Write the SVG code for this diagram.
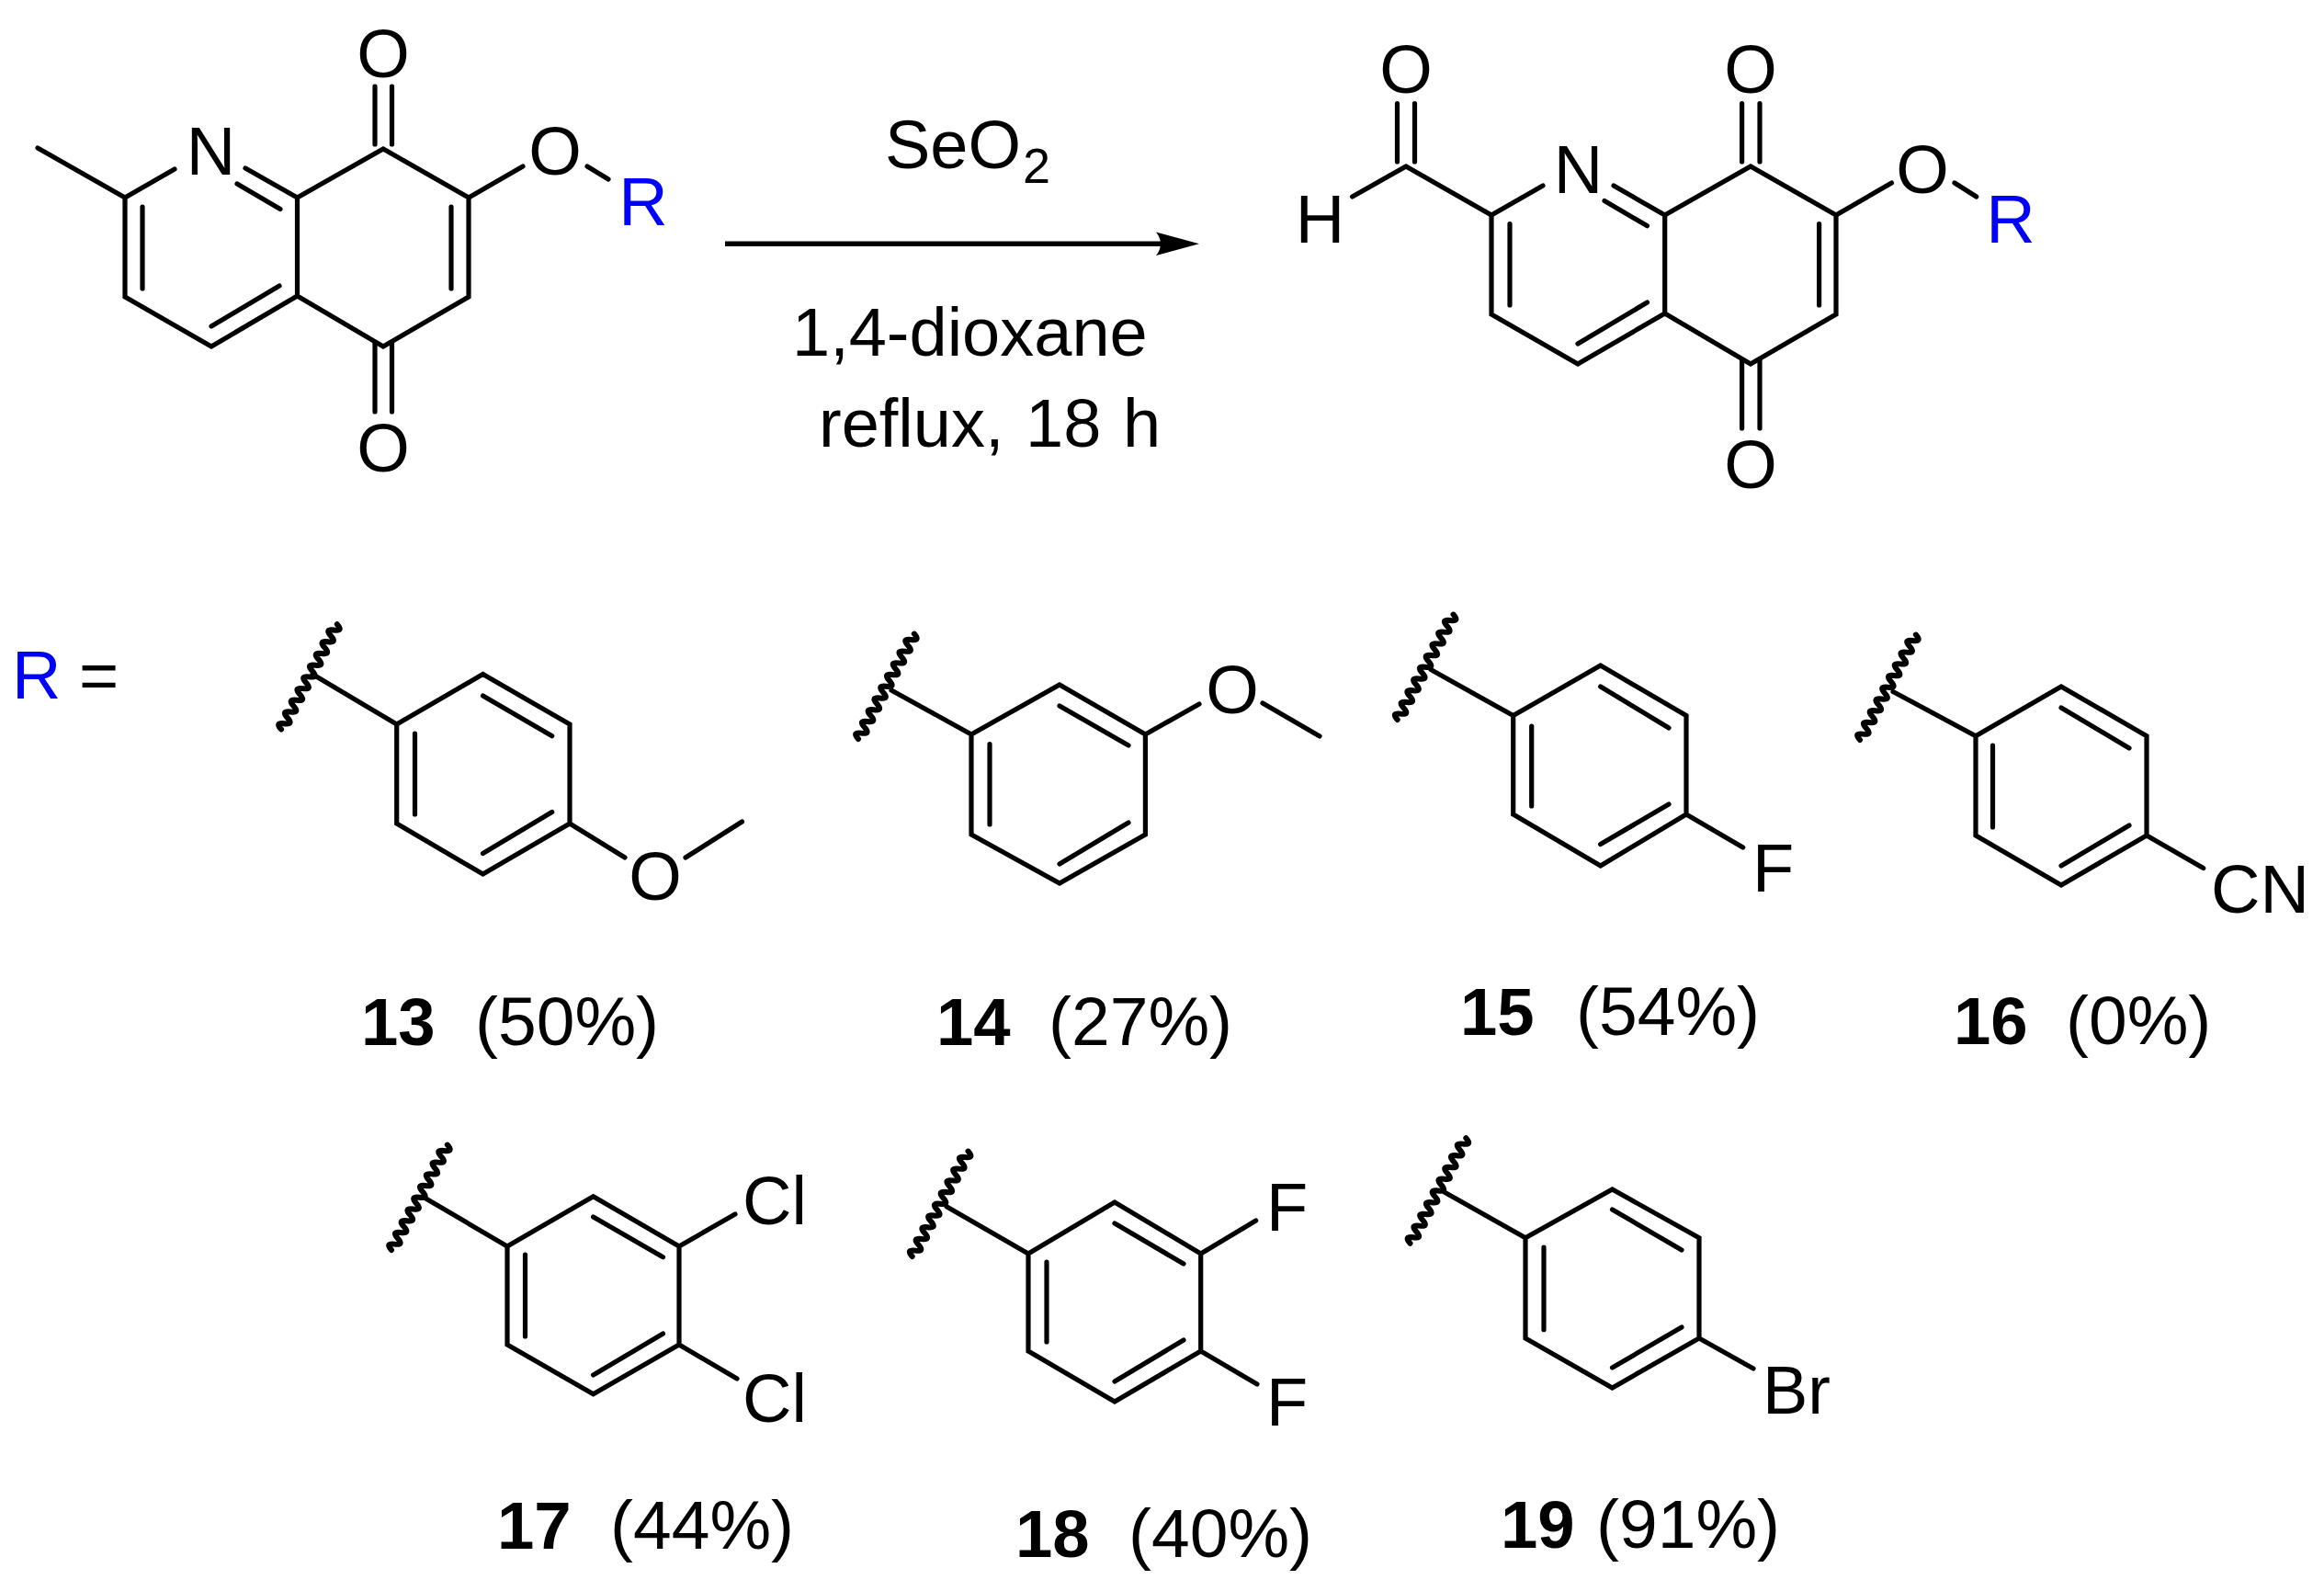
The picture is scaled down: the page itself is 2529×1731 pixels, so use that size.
<svg xmlns="http://www.w3.org/2000/svg" width="2529" height="1731" viewBox="0 0 2529 1731">
<style>
text{font-family:"Liberation Sans",Arial,sans-serif;font-size:74px;fill:#000}
.c{text-anchor:middle}
.l{font-size:75px}
.b{font-weight:bold;font-size:72.5px}
.blue{fill:#0000ff}
.s{fill:none;stroke:#000;stroke-width:5.2;stroke-linecap:round;stroke-linejoin:miter}
.w{fill:none;stroke:#000;stroke-width:6;stroke-linecap:round}
</style>
<defs>
<path id="wave" class="w" d="M0,0q3.6,-10 7.2,0t7.2,0t7.2,0t7.2,0t7.2,0t7.2,0t7.2,0t7.2,0t7.2,0t7.2,0t7.2,0t7.2,0t7.2,0t7.2,0t7.2,0t7.2,0t7.2,0t7.2,0"/>
</defs>
<rect width="2529" height="1731" fill="#fff"/>
<g id="connectors">
<path d="M789,265.3H1270" fill="none" stroke="#000" stroke-width="5.4"/>
<path d="M1305,265.3L1258,252.5Q1268,265.3 1258,278Z" fill="#000"/>
</g>
<g id="reactant">
<path class="s" d="M136,215V323L230,377L323.5,322V215L417,162L510,215V323L417,377L323.5,322"/>
<path class="s" d="M41,161L136,215L190,184M267,183L323.5,215M258,200L305,227.5M155,225V314M491,225V314M230,355L304,311M408,94V157M426.5,94V157M408,373V448M426.5,373V448M510,215L569,181M639,181L662,195"/>
<text class="c" x="229.5" y="190">N</text>
<text class="c" x="417" y="84">O</text>
<text class="c" x="417" y="513">O</text>
<text class="c" x="604" y="190">O</text>
<text class="c blue" x="700" y="245">R</text>
</g>
<g id="reagents">
<text x="963" y="183">SeO<tspan font-size="54" dy="16" dx="2">2</tspan></text>
<text x="862" y="387">1,4-dioxane</text>
<text x="891" y="486" word-spacing="3">reflux, 18 h</text>
</g>
<g id="product">
<path class="s" d="M1623,234V342L1717,396L1811.7,341V234L1905,181L1998,234V342L1905,396L1811.7,341"/>
<path class="s" d="M1471.6,214L1530,181L1623,234L1679,202M1756,202L1811.7,234M1746,218.6L1792.5,245.7M1643,243.6V332M1979.6,243.6V332M1717,374L1792.5,329M1520.5,112.5V176M1539.5,112.5V176M1895.6,112.5V176M1915,112.5V176M1895.6,391V466M1915,391V466M1998,234L2058.5,199M2127,199L2150.7,214"/>
<text class="c" x="1530" y="101">O</text>
<text class="c" x="1436.5" y="264">H</text>
<text class="c" x="1717.5" y="209.5">N</text>
<text class="c" x="1905" y="101">O</text>
<text class="c" x="1905" y="531">O</text>
<text class="c" x="2092" y="210">O</text>
<text class="c blue" x="2188" y="264">R</text>
</g>
<g id="r-equals">
<text class="blue" x="13" y="760">R</text>
<text x="86" y="760">=</text>
</g>
<g id="compound-13">
<use href="#wave" transform="translate(306,793.6) rotate(-62)"/>
<path class="s" d="M340,733.6L431.7,788L525.5,733.6L620,788V896L525.5,951L431.7,896V788M451.5,798V886M525.5,757L600.7,800.7M525.5,928.6L600.7,883.6M620,896L680,933M746,933L807.5,894"/>
<text class="c" x="713" y="979">O</text>
<text class="b" x="393" y="1137">13</text><text class="l" x="517" y="1137">(50%)</text>
</g>
<g id="compound-14">
<use href="#wave" transform="translate(934,804) rotate(-62)"/>
<path class="s" d="M970,751L1057,799L1153,745L1246.4,799V908L1153,961L1057,908V799M1077,809.6V897M1153,768L1228,811M1153,940L1228,895M1246.4,799L1305,766M1374,765L1436,801"/>
<text class="c" x="1341" y="776">O</text>
<text class="b" x="1019" y="1137">14</text><text class="l" x="1141" y="1137">(27%)</text>
</g>
<g id="compound-15">
<use href="#wave" transform="translate(1520.7,783) rotate(-62)"/>
<path class="s" d="M1557,728.6L1646.7,778.6L1741.7,724L1835,778.6V886L1741.7,942L1646.7,886V778.6M1666.7,790V877M1741.7,747L1816,792M1741.7,918.6L1816,875M1835,886L1896.7,922"/>
<text x="1907" y="970">F</text>
<text class="b" x="1589" y="1126">15</text><text class="l" x="1715" y="1126">(54%)</text>
</g>
<g id="compound-16">
<use href="#wave" transform="translate(2024,805) rotate(-62)"/>
<path class="s" d="M2060,752.5L2150,800.7L2243,747L2336,800.7V909L2243,963L2150,909V800.7M2168.5,811V900M2243,770L2317,814M2243,942L2317,898M2336,909L2397.7,944.6"/>
<text x="2406" y="992.5">CN</text>
<text class="b" x="2126" y="1136">16</text><text class="l" x="2248" y="1136">(0%)</text>
</g>
<g id="compound-17">
<use href="#wave" transform="translate(426,1360) rotate(-62)"/>
<path class="s" d="M461.7,1303L552,1356L645.6,1301.7L739,1356V1463L645.6,1516.7L552,1463V1356M571.5,1365V1454M645.6,1324L721.5,1367.7M645.6,1496L721.5,1451M739,1356L800,1321M739,1463L802,1500"/>
<text x="808" y="1332">Cl</text>
<text x="808" y="1547">Cl</text>
<text class="b" x="541" y="1685">17</text><text class="l" x="664" y="1685">(44%)</text>
</g>
<g id="compound-18">
<use href="#wave" transform="translate(992.7,1367) rotate(-62)"/>
<path class="s" d="M1030,1312.7L1119,1364L1213,1308L1306.7,1364V1470L1213,1525L1119,1470V1364M1139,1373V1460M1213,1331L1288,1375M1213,1503L1288,1458M1306.7,1364L1366.7,1328M1306.7,1470L1368,1506"/>
<text x="1378" y="1338.7">F</text>
<text x="1378" y="1551">F</text>
<text class="b" x="1105" y="1694">18</text><text class="l" x="1228" y="1694">(40%)</text>
</g>
<g id="compound-19">
<use href="#wave" transform="translate(1534.5,1352.7) rotate(-62)"/>
<path class="s" d="M1571.7,1297L1660,1346.7L1754.5,1294L1849,1346.7V1456L1754.5,1510L1660,1456V1346.7M1680,1357V1446.7M1754.5,1316L1830,1360M1754.5,1488L1830,1444M1849,1456L1908,1489"/>
<text x="1918" y="1538">Br</text>
<text class="b" x="1633" y="1684">19</text><text class="l" x="1737" y="1684">(91%)</text>
</g>
</svg>
